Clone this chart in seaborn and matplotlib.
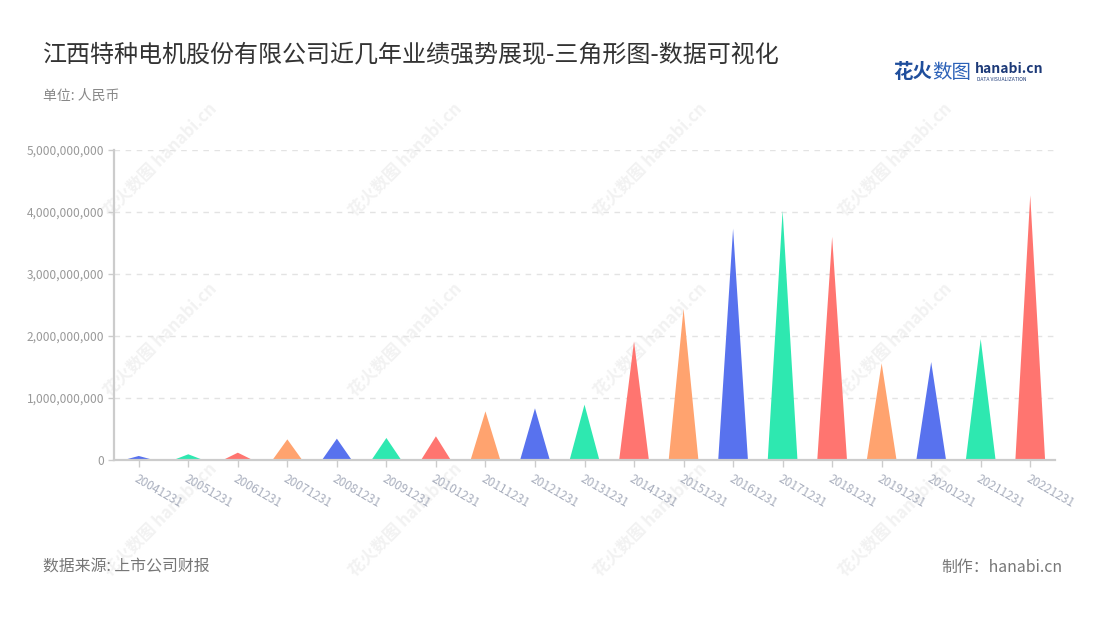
import numpy as np
import pandas as pd
import matplotlib
matplotlib.use("Agg")
import matplotlib.pyplot as plt
from matplotlib.patches import Polygon
from matplotlib.ticker import FuncFormatter
import seaborn as sns

# report dates and revenue (yuan)
dates = ["20041231", "20051231", "20061231", "20071231", "20081231", "20091231",
         "20101231", "20111231", "20121231", "20131231", "20141231", "20151231",
         "20161231", "20171231", "20181231", "20191231", "20201231", "20211231",
         "20221231"]
revenue = [65e6, 92e6, 118e6, 333e6, 344e6, 355e6, 382e6, 785e6, 833e6, 893e6,
           1914e6, 2440e6, 3730e6, 4020e6, 3600e6, 1560e6, 1580e6, 1950e6, 4270e6]
cycle = ["#5872EE", "#2EE8B0", "#FF7570", "#FFA36F"]
y_ticks = [0, 1e9, 2e9, 3e9, 4e9, 5e9]

sns.set_style("white")
plt.rcParams["font.family"] = ["Noto Sans CJK SC", "DejaVu Sans"]

df = pd.DataFrame({"date": dates, "revenue": revenue})
palette = [cycle[i % len(cycle)] for i in range(len(dates))]

fig = plt.figure(figsize=(11, 6.2), dpi=100)
ax = fig.add_axes([114 / 1100, 160 / 620, 941 / 1100, 310 / 620])
ax.patch.set_alpha(0)

sns.barplot(data=df, x="date", y="revenue", hue="date", palette=palette,
            width=0.6, saturation=1, legend=False, ax=ax)

# turn each bar into a triangle with the same base and height
for bar in list(ax.patches):
    x0, w, h = bar.get_x(), bar.get_width(), bar.get_height()
    tri = Polygon([(x0, 0), (x0 + w / 2, h), (x0 + w, 0)], closed=True,
                  facecolor=bar.get_facecolor(), edgecolor="none", zorder=2)
    ax.add_patch(tri)
    bar.remove()

ax.set_xlim(-0.5, len(dates) - 0.5)
ax.set_ylim(0, 5e9)
ax.set_yticks(y_ticks)
ax.yaxis.set_major_formatter(FuncFormatter(lambda v, _: f"{v:,.0f}"))
ax.set_xlabel("")
ax.set_ylabel("")

ax.grid(axis="y", color="#e3e3e3", linestyle=(0, (4, 4)), linewidth=1)
ax.set_axisbelow(True)
for side in ("top", "right"):
    ax.spines[side].set_visible(False)
for side in ("left", "bottom"):
    ax.spines[side].set_color("#cccccc")
    ax.spines[side].set_linewidth(1.6)
    ax.spines[side].set_zorder(3)

ax.tick_params(axis="y", length=4, width=1, color="#cccccc", labelcolor="#999999",
               labelsize=8.6, pad=3, left=True)
ax.tick_params(axis="x", length=5, width=1, color="#cccccc", labelcolor="#a8aebd",
               labelsize=8.6, pad=4, bottom=True)
plt.setp(ax.get_xticklabels(), rotation=-30, ha="left", va="top",
         rotation_mode="anchor")

# faint watermark grid behind the plot
for wx in (160, 405, 650, 895):
    for wy in (160, 340, 520):
        fig.text(wx / 1100, 1 - wy / 620, "花火数图 hanabi.cn", rotation=45,
                 ha="center", va="center", fontsize=12, fontweight="bold",
                 color="#f2f2f2", zorder=-1)

fig.text(43 / 1100, 1 - 55 / 620, "江西特种电机股份有限公司近几年业绩强势展现-三角形图-数据可视化",
         fontsize=17.3, color="#333333", ha="left", va="center")
fig.text(43 / 1100, 1 - 96 / 620, "单位: 人民币", fontsize=10, color="#888888",
         ha="left", va="center")
fig.text(43 / 1100, 1 - 567 / 620, "数据来源: 上市公司财报", fontsize=11.4,
         color="#777777", ha="left", va="center")
fig.text(1062 / 1100, 1 - 567 / 620, "制作：hanabi.cn", fontsize=11.4,
         color="#777777", ha="right", va="center")

# logo in the top right
fig.text(893 / 1100, 1 - 72 / 620, "花火", fontsize=14, fontweight="bold",
         color="#1f4e9c", ha="left", va="center")
fig.text(932 / 1100, 1 - 72 / 620, "数图", fontsize=14, color="#2c62b8",
         ha="left", va="center")
fig.text(975 / 1100, 1 - 69 / 620, "hanabi.cn", fontsize=10, fontweight="bold",
         color="#1d3a78", ha="left", va="center")
fig.text(977 / 1100, 1 - 79.5 / 620, "DATA VISUALIZATION", fontsize=3.6,
         color="#1d3a78", ha="left", va="center")

fig.savefig("out.png", dpi=100)
plt.close(fig)
